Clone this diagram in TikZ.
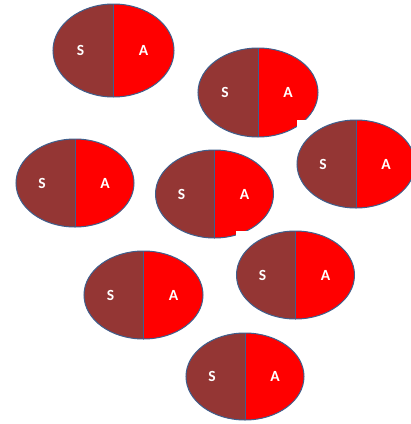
\documentclass[tikz,border=0pt]{standalone}
\usepackage{fontspec}
\setmainfont{Carlito}
\definecolor{sbrown}{HTML}{943634}
\definecolor{ared}{HTML}{FF0000}
\definecolor{rimblue}{HTML}{3F5F8C}
\tikzset{
  rim/.style={draw=rimblue,line width=1pt},
  lbl/.style={text=white,font=\fontsize{15.5}{15.5}\selectfont\bfseries,inner sep=0pt}
}
% one split oval: #1 name, #2 x, #3 y, #4 x radius, #5 y radius
\newcommand{\saoval}[5]{%
  \fill[sbrown] (#2,#3) ++(0,#5) arc (90:270:#4 and #5) -- cycle;
  \fill[ared] (#2,#3) ++(0,-#5) arc (-90:90:#4 and #5) -- cycle;
  \draw[rim] (#2,#3) ++(0,-#5) -- ++(0,2*#5);
  \draw[rim] (#2,#3) ellipse (#4 and #5);
  \node[lbl] (s#1) at ($(#2,#3)+(-33,0)$) {S};
  \node[lbl] (a#1) at ($(#2,#3)+(30,0)$) {A};
}
\usetikzlibrary{calc}
\begin{document}
\begin{tikzpicture}[x=1pt,y=-1pt]
\useasboundingbox[fill=white] (0,0) rectangle (411,424);

\saoval{1}{113.5}{50.5}{60.5}{46.5}
\saoval{2}{258}{92.5}{60}{44.5}
\fill[white] (297,120) rectangle (322,140);
\saoval{3}{356}{164}{59}{44}
\saoval{4}{75}{183}{59}{44}
\saoval{5}{214.5}{194}{59}{44}
\fill[white] (236,231) rectangle (262,245);
\saoval{6}{295.5}{275}{59}{44}
\saoval{7}{143.5}{295}{59.5}{44}
\saoval{8}{245}{376.5}{59}{43.5}
\end{tikzpicture}
\end{document}
